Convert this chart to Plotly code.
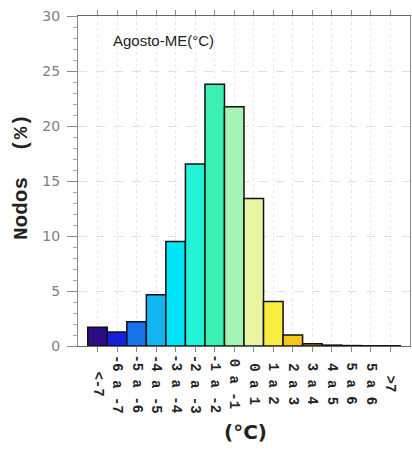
import plotly.graph_objects as go

categories = ["<-7", "-6 a -7", "-5 a -6", "-4 a -5", "-3 a -4", "-2 a -3", "-1 a -2",
              "0 a -1", "0 a 1", "1 a 2", "2 a 3", "3 a 4", "4 a 5", "5 a 6", "5 a 6", ">7"]
values = [1.7, 1.27, 2.2, 4.65, 9.5, 16.55, 23.8, 21.75, 13.4, 4.05, 1.0, 0.2, 0.08, 0.04, 0.02, 0.02]
colors = ["#2b0c86", "#1322d8", "#1874ea", "#12b4f2", "#00e4f8", "#22f2d6", "#3cf0b4",
          "#a4f4b4", "#eaf4a0", "#f8ee40", "#f4c818", "#c89010", "#b06010", "#a04010",
          "#902810", "#801010"]
y_ticks = [0, 5, 10, 15, 20, 25, 30]

idx = list(range(len(categories)))

W, H = 412, 449
PL, PR, PT, PB = 78, 410, 16, 346
pw, ph = PR - PL, PB - PT


def px(x):
    return (x - PL) / pw


def py(y):
    return (PB - y) / ph


fig = go.Figure(go.Bar(
    x=idx, y=values, width=1.0,
    marker=dict(color=colors, line=dict(color="#111111", width=1.5)),
    hoverinfo="skip",
))

mono = "Liberation Mono"
annotations = [
    dict(text="Agosto-ME(°C)", x=px(111), y=py(40), xref="paper", yref="paper",
         showarrow=False, font=dict(family="Liberation Sans", size=15, color="#222222"),
         xanchor="left", yanchor="middle"),
    dict(text="Nodos  (%)", x=px(21), y=py(177), xref="paper", yref="paper", textangle=-90,
         showarrow=False,
         font=dict(family=mono, size=21, color="#222222", weight="bold"),
         xanchor="center", yanchor="middle"),
    dict(text="(°C)", x=px(245), y=py(432), xref="paper", yref="paper",
         showarrow=False, font=dict(family="DejaVu Sans", size=20, color="#222222", weight="bold"),
         xanchor="center", yanchor="middle"),
]
for i, lab in zip(idx, categories):
    annotations.append(dict(
        text=lab, x=i, y=py(384), xref="x", yref="paper", textangle=90, showarrow=False,
        font=dict(family=mono, size=14, color="#222222", weight="bold"),
        xanchor="center", yanchor="middle"))

fig.update_layout(
    width=W, height=H,
    margin=dict(l=PL, r=W - PR, t=PT, b=H - PB, pad=0),
    paper_bgcolor="white", plot_bgcolor="white",
    showlegend=False,
    bargap=0,
    font=dict(family="DejaVu Sans", color="#555555"),
    xaxis=dict(
        range=[-1, 16], tickvals=idx, ticktext=[""] * len(idx), automargin=False,
        ticks="outside", ticklen=5, tickcolor="#888888",
        showline=True, linecolor="#666666", linewidth=1, mirror="ticks",
        showgrid=True, gridcolor="#e8e8e8", griddash="dot", zeroline=False,
    ),
    yaxis=dict(
        range=[0, 30], tickvals=y_ticks, automargin=False, ticklabeloverflow="allow",
        tickfont=dict(family="DejaVu Sans", size=14, color="#808080"),
        ticks="outside", ticklen=10, tickcolor="#888888", ticklabelstandoff=4,
        minor=dict(dtick=1, ticks="outside", ticklen=4, tickcolor="#aaaaaa", showgrid=False),
        showline=True, linecolor="#888888", linewidth=1, mirror=True,
        showgrid=True, gridcolor="#e0e0e0", griddash="dash", zeroline=False,
    ),
    annotations=annotations,
)

fig.write_html("out.html",
               config={"displayModeBar": False, "staticPlot": True},
               post_script="document.body.style.margin='0';document.body.style.overflow='hidden';")
